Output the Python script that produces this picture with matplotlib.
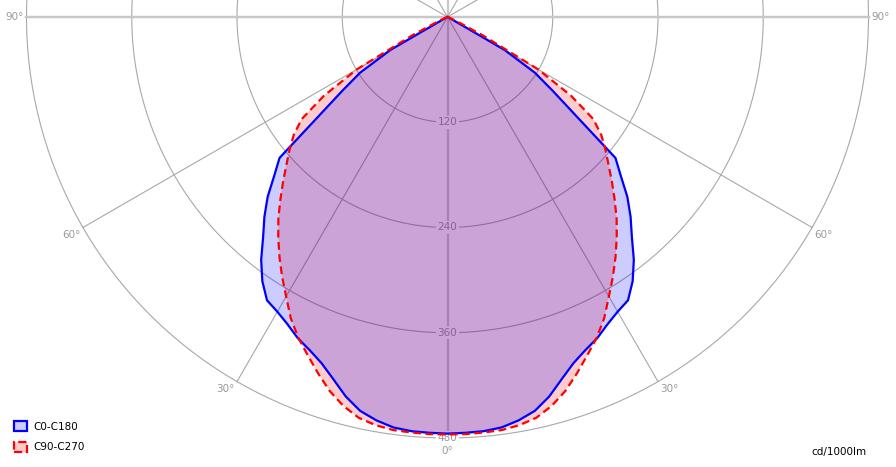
import numpy as np
import matplotlib.pyplot as plt
from matplotlib.patches import Patch

# gamma angles (deg) and intensities (cd/1000lm)
gamma = [0, 2.5, 5, 7.5, 10, 12.5, 15, 17.5, 20, 22.5, 25, 27.5, 30, 32.5, 35, 37.5,
         40, 42.5, 45, 47.5, 50, 52.5, 55, 57.5, 60, 62.5, 65, 70, 75, 80, 85, 90]
c0_c180 = [475, 474.5, 474, 472, 467, 460, 448, 433, 420, 411, 404, 395, 388, 383, 368, 349,
           327, 309, 290, 268, 250, 184, 146, 118, 75, 4, 2, 1, 0, 0, 0, 0]
c90_c270 = [476, 476, 475.5, 475, 472.5, 468, 459, 447, 432, 417, 403, 387, 368, 351, 334, 317,
            300, 282, 265, 249, 235, 221, 203, 167, 119, 45, 12, 3, 1, 0, 0, 0]

rings = [120, 240, 360, 480]
spokes = [0, 30, 60, 90]

# pixel mapping: centre at (447.5, 17), 480 cd -> 421 px
k = 421 / 480
cx, cy = 447.5, 17
W, H = 896, 467

fig = plt.figure(figsize=(W / 100, H / 100), dpi=100)
ax = fig.add_axes([0, 0, 1, 1])
ax.set_xlim(-cx / k, (W - cx) / k)
ax.set_ylim((cy - H) / k, cy / k)
ax.axis('off')

grid_c = '#a8a8a8'
lab_c = '#999999'
fs = 7.5

# grid circles
t = np.linspace(0, 2 * np.pi, 400)
for r in rings:
    ax.plot(r * np.cos(t), r * np.sin(t), color=grid_c, lw=0.8, zorder=1)

# spokes (full diameters)
R = rings[-1]
for s in spokes:
    a = np.radians(s)
    lw = 1.6 if s in (0, 90) else 0.8
    col = '#c8c8c8' if s in (0, 90) else grid_c
    ax.plot([-R * np.sin(a), R * np.sin(a)], [-R * np.cos(a), R * np.cos(a)], color=col, lw=lw, zorder=1)
    if s != 0:
        ax.plot([R * np.sin(a), -R * np.sin(a)], [-R * np.cos(a), R * np.cos(a)], color=col, lw=lw, zorder=1)

# ring labels
for r in rings:
    ax.text(0, -r, str(r), ha='center', va='center', color=lab_c, fontsize=fs, zorder=2,
            bbox=dict(boxstyle='square,pad=0.15', fc='white', ec='none'))

# angle labels
for s in [30, 60, 90]:
    a = np.radians(s)
    x, y = R * np.sin(a), -R * np.cos(a)
    va = 'center' if s == 90 else 'top'
    dy = 0 if s == 90 else -3
    ax.text(-x - 3, y + dy, f'{s}°', ha='right', va=va, color=lab_c, fontsize=fs, zorder=2)
    ax.text(x + 3, y + dy, f'{s}°', ha='left', va=va, color=lab_c, fontsize=fs, zorder=2)
ax.text(0, -R - 9, '0°', ha='center', va='top', color=lab_c, fontsize=fs, zorder=2)


def curve(vals):
    g = np.radians(np.array(gamma))
    v = np.array(vals, dtype=float)
    xl, yl = -v * np.sin(g), -v * np.cos(g)
    xr, yr = v * np.sin(g), -v * np.cos(g)
    return np.concatenate([xl[::-1], xr]), np.concatenate([yl[::-1], yr])


xr_, yr_ = curve(c90_c270)
xb_, yb_ = curve(c0_c180)

ax.fill(xr_, yr_, color=(1, 0, 0, 0.2), lw=0, zorder=3)
ax.fill(xb_, yb_, color=(0, 0, 1, 0.2), lw=0, zorder=4)
ax.plot(xb_, yb_, color='blue', lw=1.6, zorder=5)
ax.plot(xr_, yr_, color='red', lw=1.6, ls=(0, (3.5, 2)), zorder=6)

handles = [Patch(facecolor='#ccccff', edgecolor='blue', lw=1.6, label='C0-C180'),
           Patch(facecolor='#ffcccc', edgecolor='red', lw=1.6, ls='--', label='C90-C270')]
ax.legend(handles=handles, loc='lower left', bbox_to_anchor=(0.004, 0.009), frameon=False,
          fontsize=fs, handlelength=1.2, handleheight=1.2, handletextpad=0.7, labelspacing=0.95,
          borderaxespad=0.6)

ax.text((866 - cx) / k, -(452 - cy) / k, 'cd/1000lm', ha='right', va='center',
        fontsize=fs, color='black')

fig.savefig('out.png', dpi=100)
